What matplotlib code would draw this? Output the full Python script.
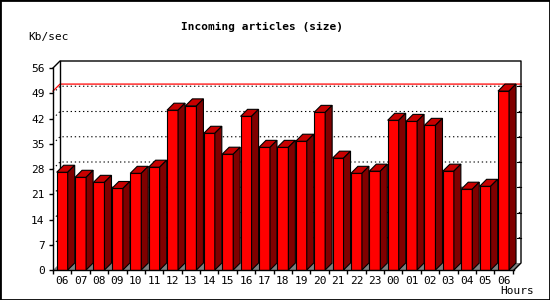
import matplotlib
matplotlib.use("Agg")
import matplotlib.pyplot as plt
from matplotlib.patches import Polygon, Rectangle
import numpy as np

# hourly values (Kb/sec)
hours = ["06", "07", "08", "09", "10", "11", "12", "13", "14", "15", "16", "17",
         "18", "19", "20", "21", "22", "23", "00", "01", "02", "03", "04", "05", "06"]
kbsec = [27.1, 25.7, 24.3, 22.6, 26.8, 28.5, 44.3, 45.5, 37.9, 32.1, 42.6, 34.0,
         34.0, 35.7, 43.7, 31.0, 26.8, 27.4, 41.5, 41.2, 40.1, 27.4, 22.4, 23.2, 49.6]
yticks = [0, 7, 14, 21, 28, 35, 42, 49, 56]

title = "Incoming articles (size)"
ylabel = "Kb/sec"
xlabel = "Hours"

FRONT = "#ff0000"
TOP = "#c80000"
SIDE = "#800000"
FLOOR = "#808080"

plt.rcParams['font.family'] = ['DejaVu Sans Mono']

fig = plt.figure(figsize=(5.5, 3), dpi=100)
fig.patch.set_facecolor("white")

# front plane of the 3d box, in pixels: x 53..514, y 270..68
ax = fig.add_axes([53 / 550, 30 / 300, 461 / 550, 202 / 300])
XL = (-0.5, 24.57)
YMAX = 56
ax.set_xlim(*XL)
ax.set_ylim(0, YMAX)
ax.patch.set_visible(False)

# depth of the 3d effect, 7 px each way, in data units
DX = 7 * (XL[1] - XL[0]) / 461
DY = 7 * YMAX / 202
W = 0.6

x = np.arange(len(kbsec))

# floor
ax.add_patch(Polygon([(XL[0], 0), (XL[1], 0), (XL[1] + DX, DY), (XL[0] + DX, DY)],
                     closed=True, facecolor=FLOOR, edgecolor="none", zorder=1, clip_on=False))

# grid lines on the back wall
for v in yticks[1:-1]:
    ax.plot([XL[0], XL[0] + DX, XL[1] + DX], [v, v + DY, v + DY], color="black",
            lw=0.8, linestyle=(0, (1.2, 2.5)), zorder=2, clip_on=False)
    ax.plot([XL[1] + DX - 4 * DX / 7, XL[1] + DX], [v + DY, v + DY], color="black",
            lw=0.8, zorder=2, clip_on=False)

# max line
m = max(kbsec)
ax.plot([XL[0], XL[0] + DX, XL[1] + DX], [m, m + DY, m + DY], color="#ff0000",
        lw=0.9, zorder=2.5, clip_on=False)

# back wall edges
ax.plot([XL[0], XL[0] + DX, XL[1] + DX, XL[1] + DX, XL[1]],
        [YMAX, YMAX + DY, YMAX + DY, DY, 0], color="black", lw=1, zorder=3, clip_on=False)
ax.plot([XL[0] + DX, XL[0] + DX], [DY, YMAX + DY], color="black", lw=1, zorder=3, clip_on=False)

# bars
ax.bar(x, kbsec, W, color=FRONT, edgecolor="black", lw=0.8, zorder=5)
for xi, v in zip(x, kbsec):
    l, r = xi - W / 2, xi + W / 2
    ax.add_patch(Polygon([(l, v), (r, v), (r + DX, v + DY), (l + DX, v + DY)], closed=True,
                         facecolor=TOP, edgecolor="black", lw=0.8, zorder=5, clip_on=False))
    ax.add_patch(Polygon([(r, 0), (r + DX, DY), (r + DX, v + DY), (r, v)], closed=True,
                         facecolor=SIDE, edgecolor="black", lw=0.8, zorder=5, clip_on=False))

for s in ["top", "right"]:
    ax.spines[s].set_visible(False)
for s in ["left", "bottom"]:
    ax.spines[s].set_linewidth(1)
    ax.spines[s].set_zorder(6)

ax.set_yticks(yticks)
ax.tick_params(axis="y", length=3, width=1, pad=3, labelsize=8)
ax.set_xticks(x)
ax.set_xticklabels(hours)
ax.set_xticks(np.arange(-0.5, len(kbsec)), minor=True)
ax.tick_params(axis="x", which="major", length=0, pad=4, labelsize=8)
ax.tick_params(axis="x", which="minor", length=3, width=1)

fig.text(262 / 550, 1 - 27 / 300, title, ha="center", va="center", fontsize=8, fontweight="bold")
fig.text(28 / 550, 1 - 37 / 300, ylabel, ha="left", va="center", fontsize=8)
fig.text(534 / 550, 1 - 291 / 300, xlabel, ha="right", va="center", fontsize=8)

fig.add_artist(Rectangle((0, 0), 1, 1, transform=fig.transFigure, fill=False,
                         edgecolor="black", lw=2))

fig.savefig("out.png", dpi=100)
